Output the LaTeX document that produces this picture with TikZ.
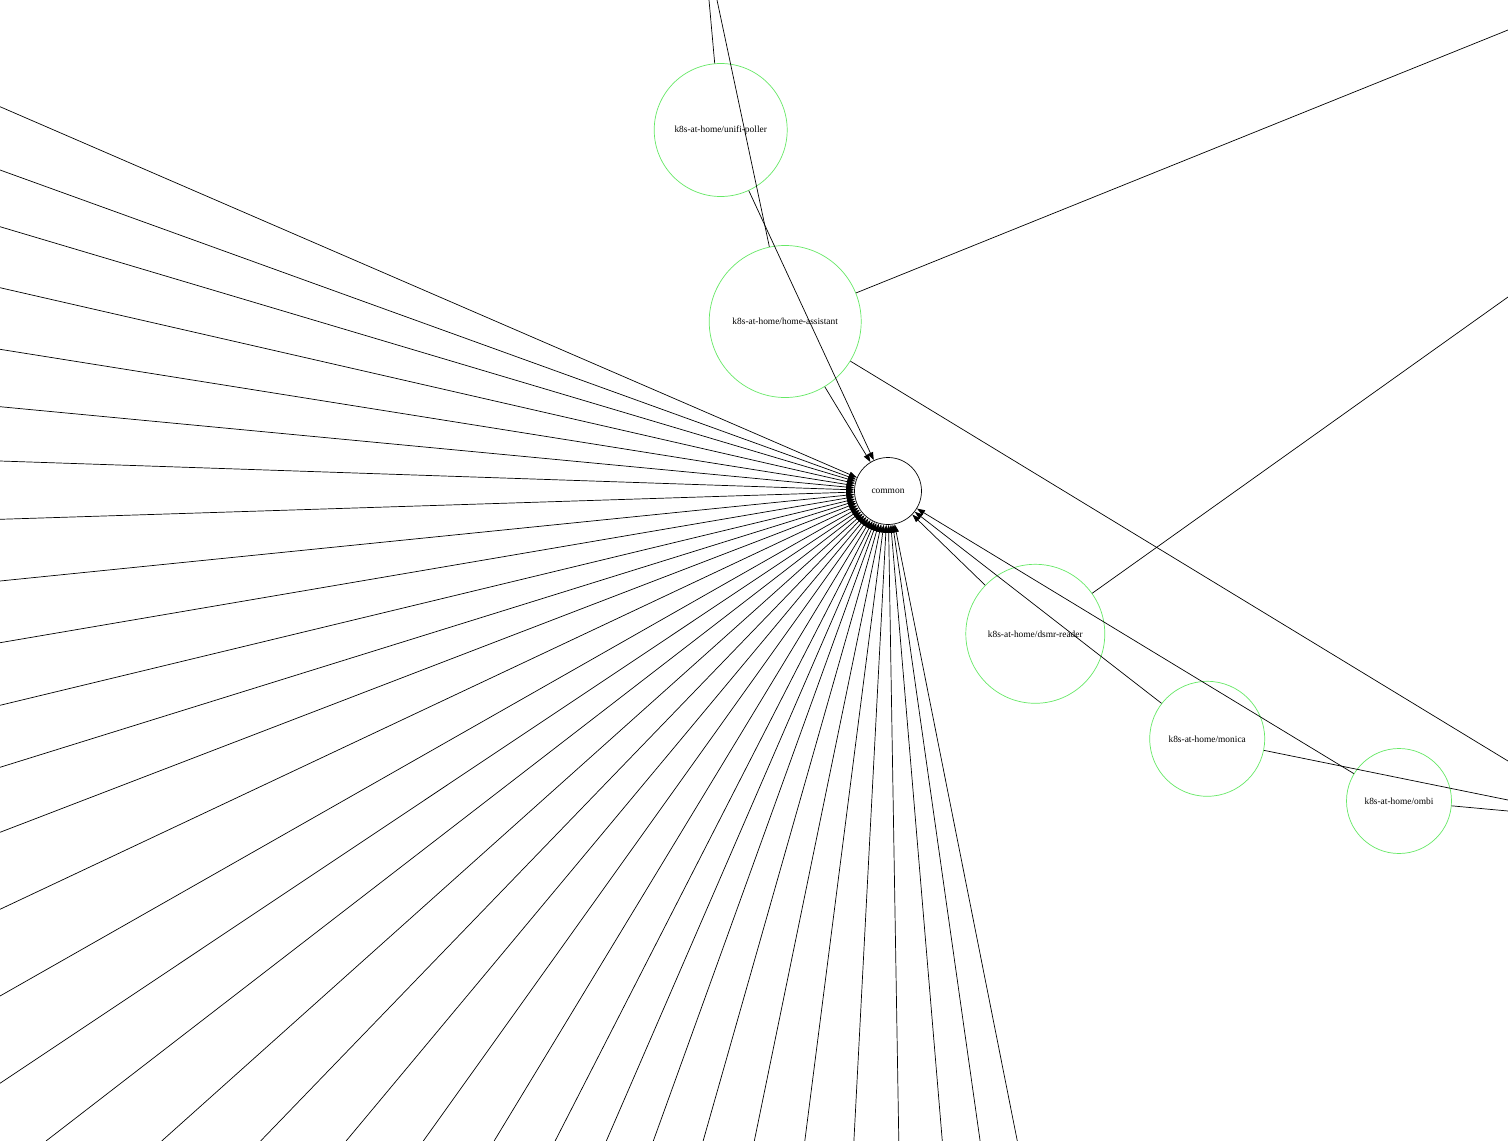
\documentclass[tikz,border=0pt]{standalone}
\usepackage{fontspec}
\setmainfont{Liberation Serif}
\usetikzlibrary{arrows.meta}
\begin{document}
\begin{tikzpicture}[x=1pt,y=-1pt,
  lbl/.style={font=\fontsize{9.4}{11}\selectfont},
  pkg/.style={lbl,circle,draw=green!85!black!60!white,line width=0.7pt,inner sep=0pt},
  hub/.style={lbl,circle,draw=black,line width=0.7pt,inner sep=0pt,minimum size=67pt},
  dep/.style={draw=black,line width=0.7pt,-{Triangle[length=8pt,width=5.5pt]}},
  link/.style={draw=black,line width=0.7pt}]
\useasboundingbox (0,0) rectangle (1508,1141);
\fill[white] (0,0) rectangle (1508,1141);
\clip (0,0) rectangle (1508,1141);

% nodes
\node[hub] (common) at (888,491) {common};
\node[pkg,minimum size=133pt] (unifi) at (720.7,130) {k8s-at-home/unifi-poller};
\node[pkg,minimum size=152pt] (hass) at (785.2,321.5) {k8s-at-home/home-assistant};
\node[pkg,minimum size=139pt] (dsmr) at (1035.3,633.8) {k8s-at-home/dsmr-reader};
\node[pkg,minimum size=115pt] (monica) at (1207.2,738.8) {k8s-at-home/monica};
\node[pkg,minimum size=105pt] (ombi) at (1399,801) {k8s-at-home/ombi};

% free ends off the picture
\coordinate (topA) at (709,0);
\coordinate (topB) at (717,0);
\coordinate (hassUR) at (1508,30);
\coordinate (hassLR) at (1508,761);
\coordinate (dsmrUR) at (1508,297);
\coordinate (monicaR) at (1508,800);
\coordinate (ombiR) at (1508,811);

% edges of the green packages
\draw[link] (topA) -- (unifi);
\draw[link] (topB) -- (hass);
\draw[link] (hass) -- (hassUR);
\draw[link] (hass) -- (hassLR);
\draw[link] (dsmr) -- (dsmrUR);
\draw[link] (monica) -- (monicaR);
\draw[link] (ombi) -- (ombiR);

\draw[dep] (unifi) -- (common);
\draw[dep] (hass) -- (common);
\draw[dep] (dsmr) -- (common);
\draw[dep] (monica) -- (common);
\draw[dep] (ombi) -- (common);

% edges from the left side
\foreach \yy [count=\i] in {106.7,170,226.7,287.7,349.3,406.7,461,519.3,581,642.7,705.3,767.3,832.3,909.3,996,1083.3}{
  \coordinate (l\i) at (0,\yy);
  \draw[dep] (l\i) -- (common);
}
% edges from the bottom side
\foreach \xx [count=\i] in {46,161.7,260.6,346.1,423.3,494.1,555.1,606.3,653.3,703.1,754.3,804.8,853.9,898.8,942.3,980.1,1017.3}{
  \coordinate (b\i) at (\xx,1141);
  \draw[dep] (b\i) -- (common);
}
\end{tikzpicture}
\end{document}
